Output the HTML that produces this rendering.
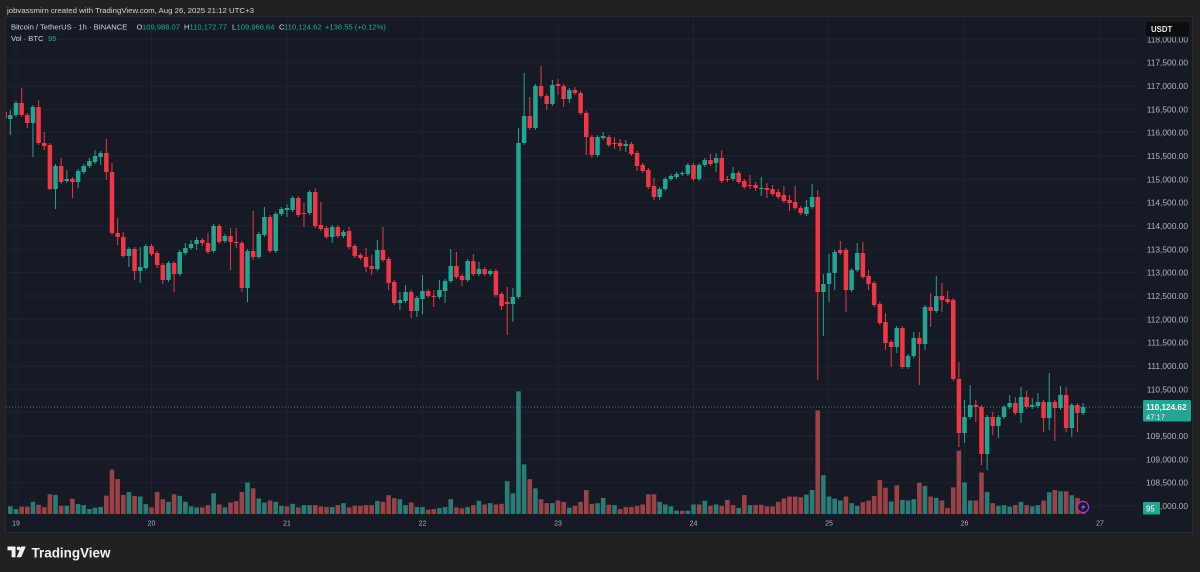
<!DOCTYPE html>
<html><head><meta charset="utf-8"><style>
html,body{margin:0;padding:0;background:#212121;width:1200px;height:572px;overflow:hidden}
svg{display:block;font-family:"Liberation Sans",sans-serif}
</style></head><body>
<svg id="s" width="1200" height="572" viewBox="0 0 1200 572" xmlns="http://www.w3.org/2000/svg">
<defs><clipPath id="cp"><rect x="6" y="17" width="1132" height="514"/></clipPath></defs>
<rect x="0" y="0" width="1200" height="572" fill="#212121"/>
<text x="7" y="13" font-size="7.6" fill="#d1d4dc" textLength="247" lengthAdjust="spacingAndGlyphs">jobvassmirn created with TradingView.com, Aug 26, 2025 21:12 UTC+3</text>
<rect x="5.5" y="16.5" width="1187" height="516" fill="#161a25" stroke="#2b2b2e" stroke-width="1"/>
<g stroke="#1f2330" stroke-width="1">
<line x1="6" x2="1138" y1="39.3" y2="39.3"/><line x1="6" x2="1138" y1="62.6" y2="62.6"/><line x1="6" x2="1138" y1="86" y2="86"/><line x1="6" x2="1138" y1="109.3" y2="109.3"/><line x1="6" x2="1138" y1="132.6" y2="132.6"/><line x1="6" x2="1138" y1="156" y2="156"/><line x1="6" x2="1138" y1="179.3" y2="179.3"/><line x1="6" x2="1138" y1="202.6" y2="202.6"/><line x1="6" x2="1138" y1="226" y2="226"/><line x1="6" x2="1138" y1="249.3" y2="249.3"/><line x1="6" x2="1138" y1="272.6" y2="272.6"/><line x1="6" x2="1138" y1="296" y2="296"/><line x1="6" x2="1138" y1="319.3" y2="319.3"/><line x1="6" x2="1138" y1="342.6" y2="342.6"/><line x1="6" x2="1138" y1="366" y2="366"/><line x1="6" x2="1138" y1="389.3" y2="389.3"/><line x1="6" x2="1138" y1="412.6" y2="412.6"/><line x1="6" x2="1138" y1="436" y2="436"/><line x1="6" x2="1138" y1="459.3" y2="459.3"/><line x1="6" x2="1138" y1="482.6" y2="482.6"/><line x1="6" x2="1138" y1="506" y2="506"/>
<line y1="17" y2="516" x1="16" x2="16"/><line y1="17" y2="516" x1="151.5" x2="151.5"/><line y1="17" y2="516" x1="287" x2="287"/><line y1="17" y2="516" x1="422.5" x2="422.5"/><line y1="17" y2="516" x1="558" x2="558"/><line y1="17" y2="516" x1="693.5" x2="693.5"/><line y1="17" y2="516" x1="829" x2="829"/><line y1="17" y2="516" x1="964.5" x2="964.5"/><line y1="17" y2="516" x1="1100" x2="1100"/>
</g>
<g clip-path="url(#cp)"><g id="vol"></g><g id="cdl"></g></g>
<line x1="6" x2="1142" y1="407" y2="407" stroke="#26a69a" stroke-width="1" stroke-dasharray="1,2" opacity="0.8"/>
<g font-size="8.4" fill="#b2b5be" text-anchor="end">
<text x="1188" y="42.3">118,000.00</text><text x="1188" y="65.6">117,500.00</text><text x="1188" y="89">117,000.00</text><text x="1188" y="112.3">116,500.00</text><text x="1188" y="135.6">116,000.00</text><text x="1188" y="159">115,500.00</text><text x="1188" y="182.3">115,000.00</text><text x="1188" y="205.6">114,500.00</text><text x="1188" y="229">114,000.00</text><text x="1188" y="252.3">113,500.00</text><text x="1188" y="275.6">113,000.00</text><text x="1188" y="299">112,500.00</text><text x="1188" y="322.3">112,000.00</text><text x="1188" y="345.6">111,500.00</text><text x="1188" y="369">111,000.00</text><text x="1188" y="392.3">110,500.00</text><text x="1188" y="439">109,500.00</text><text x="1188" y="462.3">109,000.00</text><text x="1188" y="485.6">108,500.00</text><text x="1188" y="509">108,000.00</text>
</g>
<rect x="1145" y="21" width="45" height="16" rx="2.5" fill="#0d0d0f" stroke="#2a2a2e" stroke-width="0.8"/>
<text x="1151" y="32" font-size="7.8" fill="#e8e8ea" font-weight="bold">USDT</text>
<rect x="1143" y="400" width="48" height="21.5" rx="1.5" fill="#22a592"/>
<text x="1146" y="410" font-size="8.2" fill="#ffffff" font-weight="bold">110,124.62</text>
<text x="1146" y="419.5" font-size="7.6" fill="#e6fffb">47:17</text>
<rect x="1143" y="502" width="17" height="12.5" rx="1" fill="#22a592"/>
<text x="1146" y="511.5" font-size="7.8" fill="#ffffff">95</text>
<circle cx="1083" cy="507" r="5.6" fill="#1c1630" stroke="#9c3fc6" stroke-width="1.2"/>
<path d="M1084.6,503.2 L1081,507.6 L1083.2,507.6 L1081.6,511 L1085.3,506.3 L1083,506.3 Z" fill="#b65ee0"/>
<g font-size="7.6">
<text y="29.5"><tspan x="11" fill="#d1d4dc">Bitcoin / TetherUS · 1h · BINANCE</tspan><tspan x="136.5" fill="#d1d4dc">O</tspan><tspan x="142" fill="#22ab94">109,988.07</tspan><tspan x="184" fill="#d1d4dc">H</tspan><tspan x="189.5" fill="#22ab94">110,172.77</tspan><tspan x="232" fill="#d1d4dc">L</tspan><tspan x="236.5" fill="#22ab94">109,966.64</tspan><tspan x="279" fill="#d1d4dc">C</tspan><tspan x="284" fill="#22ab94">110,124.62</tspan><tspan x="325" fill="#22ab94">+136.55 (+0.12%)</tspan></text>
<text y="41"><tspan x="11" fill="#d1d4dc">Vol · BTC</tspan><tspan x="48" fill="#22ab94">95</tspan></text>
</g>
<g font-size="7" fill="#b2b5be" text-anchor="middle">
<text x="16" y="525.5">19</text><text x="151.5" y="525.5">20</text><text x="287" y="525.5">21</text><text x="422.5" y="525.5">22</text><text x="558" y="525.5">23</text><text x="693.5" y="525.5">24</text><text x="829" y="525.5">25</text><text x="964.5" y="525.5">26</text><text x="1100" y="525.5">27</text>
</g>
<g fill="#f2f2f2">
<rect x="7.5" y="546.5" width="8" height="3.8"/><rect x="11.6" y="546.5" width="3.9" height="10.8"/>
<circle cx="18.6" cy="548.4" r="1.9"/>
<path d="M21.2,546.5 L25.8,546.5 L21.2,557.3 L16.6,557.3 Z"/>
</g>
<text x="31.5" y="557.5" font-size="14" font-weight="bold" fill="#f2f2f2" textLength="79" lengthAdjust="spacingAndGlyphs">TradingView</text>
</svg>
<script>
(function(){
var G="#22a592",R="#f23645",VG="#2a7c76",VR="#9a4246";
var cs="r112,118,110,120 g115,119,110,135 g103,115,101,117 r103,115,88,117 r115,123,113,128 g107,123,105,157 r107,143,100,145 r143,146,132,150 r145,189,143,190 g166,189,164,209 r166,182,158,184 g179,181,170,183 r179,182,177,198 g171,182,169,188 g166,172,164,174 g161,166,158,168 g156,162,150,164 g153,157,151,165 r153,172,139,180 r172,233,163,235 r233,237,218,245 r237,256,232,258 g249,256,247,267 r249,271,247,280 g267,271,247,283 g246,268,244,270 r246,254,244,256 r253,265,251,268 r265,280,263,284 g263,280,261,282 r263,274,261,292 g252,274,250,276 g248,253,243,255 g244,248,240,250 g240,244,237,250 r240,243,238,246 r243,252,233,254 g226,251,224,253 r226,242,224,244 g236,241,234,243 "+
"r236,242,228,270 r242,243,228,248 r243,288,241,292 g251,288,249,302 r251,257,211,260 g234,257,232,259 g217,235,207,237 r217,251,215,253 g214,251,212,253 g209,214,207,216 g208,210,204,217 g198,210,196,212 r198,215,196,217 r213,214,203,227 g192,213,190,215 r192,226,188,228 r225,229,202,231 r228,237,226,239 g227,237,225,243 r227,236,225,238 g232,236,230,238 r231,247,227,249 r246,256,244,258 r255,258,253,260 r257,267,248,272 r266,269,255,275 g250,269,240,271 r250,260,227,262 r259,283,257,290 r282,303,280,305 g300,303,292,310 g292,301,285,303 r292,311,290,318 g298,311,296,317 g291,299,275,314 r291,296,289,298 r296,297,290,307 g290,297,280,299 g281,291,279,303 g266,281,249,283 r266,277,252,279 r276,280,274,286 g261,280,259,282 r261,274,254,276 g269,274,262,276 r269,274,267,276 g271,274,269,276 r271,295,269,297 r294,306,292,310 r302,304,287,335 g297,304,288,322 g143,297,128,299 "+
"g116,143,73,145 r116,128,97,130 g86,128,84,130 r86,96,66,98 r96,104,94,110 g85,104,80,106 r84,86,79,95 r86,99,84,107 g90,99,88,103 r90,93,87,95 r93,113,91,115 r113,137,111,155 r137,155,135,158 g137,155,135,157 g136,138,132,140 r137,145,135,147 r143,144,137,149 r143,146,139,151 g144,146,140,152 r144,154,142,156 r153,166,151,171 r165,171,163,173 r170,187,168,189 r186,197,178,200 g189,197,187,200 g179,189,177,191 g176,179,174,181 g174,177,172,179 g173,174,171,176 g165,174,163,176 r165,179,163,181 g165,179,163,181 g160,165,158,167 r160,164,154,166 g158,163,153,172 "+
"r158,181,150,183 r179,180,176,182 g173,179,167,181 r173,182,171,184 r181,187,179,189 r185,186,175,189 r185,188,182,191 g188,189,177,196 r188,190,183,198 r189,194,185,196 r192,197,189,199 r195,201,186,203 r200,203,195,211 r202,208,186,210 r208,213,206,215 g207,214,200,216 g197,207,184,209 r197,292,190,380 g284,292,274,336 g273,284,254,302 g252,273,250,290 r250,253,241,255 r250,290,248,312 g270,290,268,292 g253,270,243,272 r253,277,242,279 r276,284,270,290 r283,305,281,307 r304,323,302,325 r322,343,313,350 r342,347,340,367 g328,347,326,353 r328,367,326,369 g356,367,354,369 g338,356,332,358 r338,344,332,385 g307,344,305,350 r307,311,293,327 g296,311,276,313 r296,300,283,312 r299,302,291,304 "+
"r300,379,298,381 r379,433,362,447 g417,433,400,443 g405,417,385,419 r405,407,400,422 r407,454,405,465 g417,454,415,470 r417,426,412,435 g417,426,415,438 g407,417,405,419 g403,407,395,409 r403,413,397,415 g397,413,387,423 r397,407,391,409 g405,407,398,409 g402,406,393,408 r402,418,400,432 g402,418,373,430 r402,408,400,441 g395,408,386,410 r395,428,387,432 g405,428,403,437 r405,413,403,432 g407,413,403,415";
var vs="t380 t388 r381 r381 t366 r375 r382 r343 t345 r378 t378 r357 t373 t376 t388 t384 t382 r347 r268 r297 r345 t336 r348 t350 t373 r383 r336 r358 t366 r343 t348 t366 t380 t383 r383 r376 t340 r374 t383 r368 r364 r336 t307 r325 t356 t368 r362 t366 t378 r380 t372 r383 t376 t376 r376 r380 r382 t382 r376 t370 r383 r378 r378 r376 r376 t363 r366 r346 r355 t358 t376 r368 t382 t382 r390 r388 t385 t382 t358 r383 r386 t382 r376 t363 r374 t370 r374 r372 t303 t340 t30 t252 r297 t325 r358 "+
"r370 t370 r362 r366 t384 r378 r366 r330 r372 t370 t354 r375 t376 r388 r382 r382 r378 r374 r343 r343 t366 t374 t380 t393 r393 t393 t374 r374 t363 r378 t374 r378 r360 r376 t385 r345 t376 r376 r375 r380 r380 r366 r356 r350 r350 r352 t344 t330 r88 t285 t350 t356 t362 r350 t370 t378 r367 r362 r348 r300 r323 t365 r316 t360 t362 t358 r308 t318 r350 t354 r362 r385 r322 r210 t307 t362 r362 r277 t336 r370 t378 t376 t381 r376 t366 r376 t380 t376 r362 t337 r330 t334 r334 t346 r354 r390";
var v="",c="";
vs.split(" ").forEach(function(it,k){var i=k-1;var x=16+i*5.646;var top=+it.slice(1);var h=(403-top)*0.329;if(h<0.8)h=0.8;
v+='<rect x="'+(x-2.3).toFixed(2)+'" y="'+(514-h).toFixed(2)+'" width="4.6" height="'+h.toFixed(2)+'" fill="'+(it[0]=="t"?VG:VR)+'"/>';});
cs.split(" ").forEach(function(it,k){var i=k-2;var x=16+i*5.646;var col=it[0]=="g"?G:R;var a=it.slice(1).split(",").map(Number);
var bt=a[0],bb=a[1],wt=Math.min(a[2],bt),wb=Math.max(a[3],bb);
c+='<rect x="'+(x-0.5).toFixed(2)+'" y="'+wt+'" width="1" height="'+(wb-wt)+'" fill="'+col+'"/>';
c+='<rect x="'+(x-2.25).toFixed(2)+'" y="'+bt+'" width="4.5" height="'+Math.max(1,bb-bt)+'" fill="'+col+'"/>';});
document.getElementById("vol").innerHTML=v;
document.getElementById("cdl").innerHTML=c;
})();
</script>
</body></html>
